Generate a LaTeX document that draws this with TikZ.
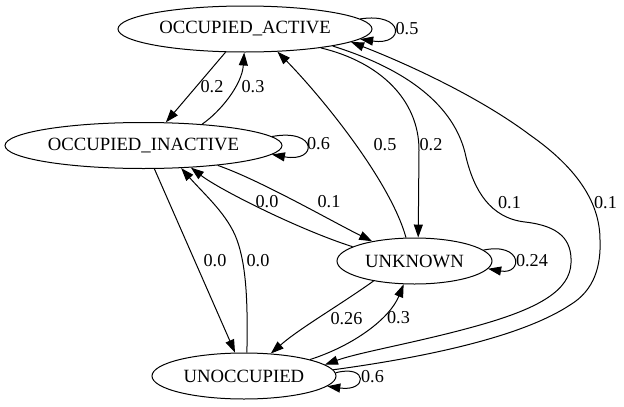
\documentclass[tikz,border=0pt]{standalone}
\usepackage{fontspec}
\setmainfont{Liberation Serif}
\usetikzlibrary{shapes.geometric,arrows.meta}
\begin{document}
\begin{tikzpicture}[x=1pt,y=-1pt,
  state/.style={draw,ellipse,line width=1pt,inner sep=0pt,minimum height=46pt,font=\fontsize{18.7}{21}\selectfont},
  edge/.style={line width=1pt,-{Triangle[length=13pt,width=9pt]}},
  lbl/.style={inner sep=0pt,font=\fontsize{18.2}{21}\selectfont}]
\useasboundingbox (0,0) rectangle (624,407);
\node[state,minimum width=254pt] (OA) at (245,29) {OCCUPIED\_ACTIVE};
\node[state,minimum width=277pt] (OI) at (143.5,145.5) {OCCUPIED\_INACTIVE};
\node[state,minimum width=155pt] (UNK) at (414.5,261) {UNKNOWN};
\node[state,minimum width=184pt] (UNOCC) at (244,376) {UNOCCUPIED};
% self loops
\draw[edge] (OA.5) .. controls (405,12) and (405,46) .. (OA.-5);
\draw[edge] (OI.4) .. controls (318,128) and (318,163) .. (OI.-4);
\draw[edge] (UNK.9) .. controls (523,242) and (523,275) .. (UNK.-6);
\draw[edge] (UNOCC.2) .. controls (368,364) and (368,392) .. (UNOCC.-7);
% OA <-> OI
\draw[edge] (OA.-130) -- (OI.46);
\draw[edge] (OI.20) .. controls (220,112) and (242,85) .. (OA.-92);
% OA <-> UNK
\draw[edge] (UNK.110) .. controls (390,180) and (320,95) .. (OA.-35);
\draw[edge] (OA.-14) .. controls (380,62) and (419,100) .. (419,150) -- (UNK.81);
% OA <-> UNOCC
\draw[edge] (OA.-11) .. controls (425,75) and (458,118) .. (466,157)
  .. controls (474,190) and (490,218) .. (525,222)
  .. controls (560,226) and (572,240) .. (571,263)
  .. controls (570,290) and (540,308) .. (480,325)
  .. controls (420,342) and (360,352) .. (UNOCC.8);
\draw[edge] (UNOCC.4) .. controls (420,358) and (520,338) .. (570,305)
  .. controls (595,290) and (601,265) .. (600,240)
  .. controls (600,205) and (580,170) .. (530,135)
  .. controls (480,97.5) and (410,65) .. (OA.-7);
% OI <-> UNK
\draw[edge] (OI.-15) .. controls (260,180) and (333,222) .. (UNK.155);
\draw[edge] (UNK.167) .. controls (300,230) and (220,190) .. (OI.-25);
% OI <-> UNOCC
\draw[edge] (OI.-65) -- (UNOCC.111);
\draw[edge] (UNOCC.83) .. controls (248,300) and (246,265) .. (237,240)
  .. controls (228,215) and (205,195) .. (OI.-31);
% UNK <-> UNOCC
\draw[edge] (UNK.206) .. controls (340,305) and (300,328) .. (UNOCC.40);
\draw[edge] (UNOCC.14) .. controls (355,345) and (390,318) .. (UNK.-115);
% labels
\node[lbl] (l1) at (407,29) {0.5};
\node[lbl] (l2) at (212,87) {0.2};
\node[lbl] (l3) at (253,87) {0.3};
\node[lbl] (l4) at (318.5,144) {0.6};
\node[lbl] (l5) at (385,145) {0.5};
\node[lbl] (l6) at (431,145) {0.2};
\node[lbl] (l7) at (267,202) {0.0};
\node[lbl] (l8) at (329,202) {0.1};
\node[lbl] (l9) at (509.5,203) {0.1};
\node[lbl] (l10) at (605.5,203) {0.1};
\node[lbl] (l11) at (532,261) {0.24};
\node[lbl] (l12) at (215,261) {0.0};
\node[lbl] (l13) at (258,261) {0.0};
\node[lbl] (l14) at (346.5,318.5) {0.26};
\node[lbl] (l15) at (398.5,318) {0.3};
\node[lbl] (l16) at (372.5,377) {0.6};
\end{tikzpicture}
\end{document}
